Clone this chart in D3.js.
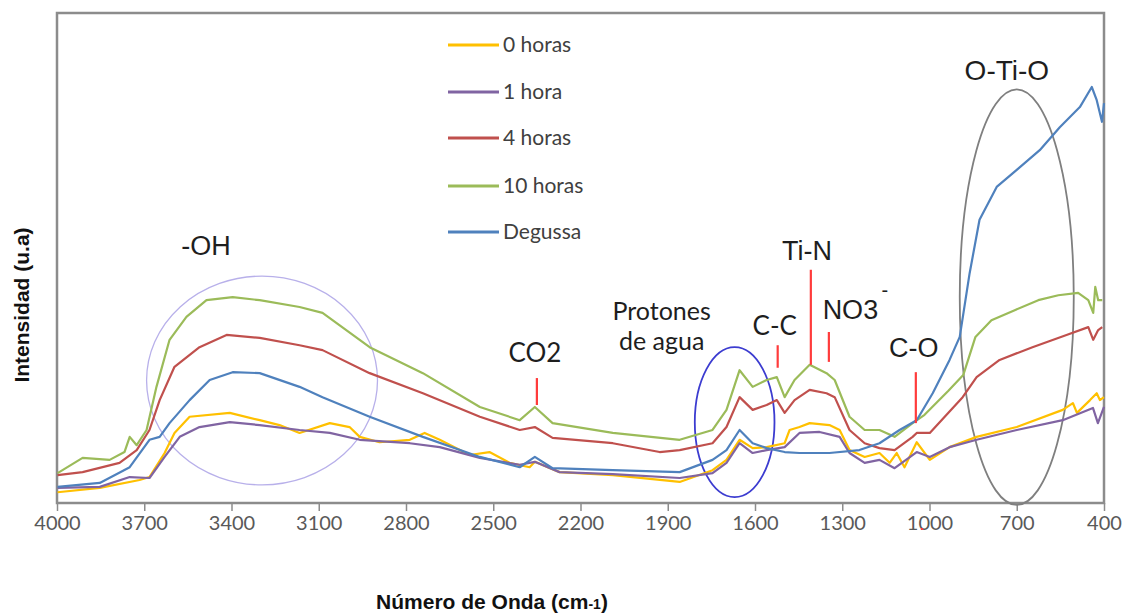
<!DOCTYPE html>
<html>
<head>
<meta charset="utf-8">
<script src="https://cdn.jsdelivr.net/npm/d3@7"></script>
<style>
  html, body { margin: 0; padding: 0; background: #ffffff; }
  svg { display: block; }
</style>
</head>
<body>
<svg id="chart" width="1129" height="613"></svg>
<script>
// ---------- DATA (wavenumber cm-1, intensity u.a.) ----------
const seriesNames = ["0 horas", "1 hora", "4 horas", "10 horas", "Degussa"];
const xTicks = [4000, 3700, 3400, 3100, 2800, 2500, 2200, 1900, 1600, 1300, 1000, 700, 400];

const horas0 = [
  [3998,2.2],[3853,3.1],[3716,4.7],[3682,5.3],[3630,10.2],[3596,14.3],[3544,17.6],[3406,18.4],
  [3303,16.9],[3235,15.9],[3166,14.3],[3062,16.3],[2994,15.5],[2959,13.5],[2891,12.4],[2787,12.9],
  [2736,14.3],[2684,12.9],[2581,9.8],[2513,10.4],[2444,8.2],[2375,7.3],[2357,8.4],[2272,6.3],
  [2089,5.7],[1859,4.3],[1746,6.7],[1698,8.8],[1653,12.9],[1608,11.2],[1560,11.4],[1498,12.2],
  [1481,14.9],[1447,15.5],[1412,16.3],[1344,15.9],[1309,14.9],[1275,10.8],[1223,9.4],[1172,10.2],
  [1137,8.2],[1113,10.2],[1086,7.3],[1044,12.4],[999,8.8],[931,11.4],[838,13.5],[700,15.5],
  [542,19.0],[507,20.4],[493,18.4],[448,21.0],[425,22.4],[414,21.0],[400,21.6]
];
const hora1 = [
  [3998,3.1],[3853,3.3],[3750,5.3],[3682,5.1],[3630,9.4],[3578,13.5],[3510,15.5],[3406,16.5],
  [3303,15.9],[3166,14.9],[3062,14.3],[2959,12.9],[2787,12.2],[2684,11.4],[2546,9.2],[2409,7.8],
  [2357,8.4],[2272,6.3],[2089,5.9],[1859,5.1],[1746,6.1],[1698,8.2],[1653,12.2],[1608,10.2],
  [1560,10.8],[1498,11.4],[1447,14.3],[1378,14.5],[1309,13.5],[1275,10.2],[1223,8.2],[1172,8.8],
  [1120,7.1],[1044,10.4],[999,9.4],[931,11.4],[838,12.9],[700,14.9],[542,16.9],[438,19.4],
  [421,16.3],[400,19.6]
];
const horas4 = [
  [3998,5.7],[3912,6.3],[3785,8.2],[3726,10.8],[3682,14.9],[3647,21.0],[3596,27.8],[3510,31.8],
  [3417,34.3],[3303,33.7],[3166,32.2],[3087,31.2],[2925,26.5],[2742,22.4],[2546,17.6],[2409,14.9],
  [2357,15.5],[2296,13.3],[2089,12.2],[1928,10.4],[1859,10.8],[1746,12.2],[1698,15.5],[1653,21.6],
  [1608,19.0],[1560,20.0],[1525,21.0],[1498,18.4],[1464,21.0],[1412,23.1],[1354,22.4],[1326,21.6],
  [1275,14.9],[1223,12.2],[1172,11.2],[1120,10.8],[1058,13.5],[1044,14.3],[999,14.3],[886,21.6],
  [838,25.7],[759,29.2],[646,31.8],[529,34.3],[454,35.9],[437,33.3],[420,35.3],[406,35.9]
];
const horas10 = [
  [3998,6.1],[3912,9.2],[3819,8.8],[3768,10.4],[3750,13.5],[3726,11.8],[3692,14.9],[3658,23.7],
  [3613,33.3],[3555,38.0],[3486,41.4],[3396,42.0],[3303,41.4],[3166,40.0],[3087,38.8],[2925,31.8],
  [2742,26.5],[2546,19.6],[2409,16.9],[2357,19.6],[2296,16.3],[2089,14.3],[1859,12.9],[1746,14.9],
  [1698,19.0],[1653,27.1],[1608,23.7],[1560,25.1],[1525,25.7],[1498,21.6],[1464,25.1],[1412,28.2],
  [1354,26.5],[1326,25.1],[1275,17.6],[1223,14.9],[1172,14.9],[1120,13.5],[1058,16.3],[1017,18.0],
  [935,22.9],[884,26.1],[842,33.9],[787,37.3],[705,39.4],[626,41.4],[557,42.4],[489,42.9],
  [454,41.4],[437,38.8],[430,44.1],[420,41.4],[406,41.4]
];
const degussa = [
  [3998,3.3],[3853,4.1],[3750,7.3],[3682,12.9],[3647,13.5],[3613,16.3],[3544,21.0],[3475,25.1],
  [3396,26.7],[3303,26.5],[3166,23.7],[3087,21.6],[2925,17.6],[2742,13.5],[2546,9.4],[2409,7.3],
  [2357,9.4],[2296,7.1],[2089,6.7],[1859,6.3],[1746,8.8],[1698,10.8],[1653,14.9],[1608,12.2],
  [1560,11.2],[1498,10.4],[1447,10.2],[1344,10.2],[1241,10.8],[1172,12.2],[1103,14.9],[1044,16.9],
  [989,22.4],[931,29.2],[896,33.9],[862,46.9],[828,57.8],[769,64.5],[700,68.0],[621,72.0],
  [552,76.7],[483,80.8],[442,84.9],[425,82.2],[407,77.8],[400,81.6]
];
const seriesValues = [horas0, hora1, horas4, horas10, degussa];
const seriesColors = ["#ffc000", "#8064a2", "#c0504d", "#9bbb59", "#4f81bd"];

// band annotations: label, marker wavenumber, label position, marker from/to value
const bandLabels = ["CO2", "C-C", "Ti-N", "NO3", "C-O"];
const bandWavenumbers = [2350, 1522, 1408, 1346, 1047];
const bandLabelWavenumbers = [2357, 1532, 1421, 1272, 1054];
const bandLabelValues = [28.8, 34.3, 49.6, 37.6, 29.8];
const bandMarkerTop = [25.5, 32.2, 47.6, 34.9, 26.7];
const bandMarkerBottom = [20.0, 27.6, 28.2, 28.8, 16.3];

// group labels and ellipses (centre wavenumber, centre value, half-width wn, half-height value)
const groupLabels = ["-OH", "O-Ti-O"];
const groupLabelWavenumbers = [3488, 734];
const groupLabelValues = [50.6, 86.3];
const ellipseCentreWn = [3295, 1670, 700];
const ellipseCentreVal = [25.0, 16.5, 42.0];
const ellipseHalfWn = [397, 137, 196];
const ellipseHalfVal = [21.3, 15.3, 42.4];
const ellipseColors = ["#b8b0ea", "#3c3cd0", "#7f7f7f"];

// ---------- CHART ----------
const W = 1129, H = 613;
const margin = { left: 57, right: 25, top: 13, bottom: 110 };
const svg = d3.select("#chart");

const x = d3.scaleLinear().domain([4000, 400]).range([margin.left, W - margin.right]);
const y = d3.scaleLinear().domain([0, 100]).range([H - margin.bottom, margin.top]);

// plot frame
svg.append("rect")
  .attr("x", x(4000)).attr("y", y(100))
  .attr("width", x(400) - x(4000)).attr("height", y(0) - y(100))
  .attr("fill", "none").attr("stroke", "#8c8c8c").attr("stroke-width", 2.5);

// x axis
const xAxis = svg.append("g")
  .attr("transform", `translate(0,${y(0)})`)
  .call(d3.axisBottom(x).tickValues(xTicks).tickSize(8).tickPadding(5).tickFormat(d3.format("d")));
xAxis.select(".domain").remove();
xAxis.selectAll(".tick line").attr("stroke", "#8c8c8c").attr("stroke-width", 1.5);
xAxis.selectAll(".tick text")
  .attr("fill", "#595959")
  .style("font-family", "Lato, 'Open Sans', sans-serif")
  .style("font-size", "20px");

// axis titles
const xt = svg.append("text")
  .attr("x", 492).attr("y", 609)
  .attr("text-anchor", "middle")
  .style("font-family", "'Liberation Sans', Arial, sans-serif")
  .style("font-weight", "bold").style("font-size", "21px").attr("fill", "#111");
xt.append("tspan").text("Número de Onda (cm");
xt.append("tspan").style("font-size", "14px").text("-1");
xt.append("tspan").text(")");

svg.append("text")
  .attr("transform", `translate(29,${305}) rotate(-90)`)
  .attr("text-anchor", "middle")
  .style("font-family", "'Liberation Sans', Arial, sans-serif")
  .style("font-weight", "bold").style("font-size", "21px").attr("fill", "#111")
  .text("Intensidad (u.a)");

// ellipses
ellipseCentreWn.forEach((c, i) => {
  svg.append("ellipse")
    .attr("cx", x(c)).attr("cy", y(ellipseCentreVal[i]))
    .attr("rx", Math.abs(x(c + ellipseHalfWn[i]) - x(c)))
    .attr("ry", Math.abs(y(ellipseHalfVal[i]) - y(0)))
    .attr("fill", "none").attr("stroke", ellipseColors[i])
    .attr("stroke-width", i === 0 ? 1.3 : 1.8);
});

// lines
const line = d3.line().x(d => x(d[0])).y(d => y(d[1])).curve(d3.curveLinear);
seriesValues.forEach((vals, i) => {
  svg.append("path").datum(vals)
    .attr("d", line)
    .attr("fill", "none")
    .attr("stroke", seriesColors[i])
    .attr("stroke-width", 2.2)
    .attr("stroke-linejoin", "round");
});

// band markers
bandWavenumbers.forEach((wn, i) => {
  svg.append("line")
    .attr("x1", x(wn)).attr("x2", x(wn))
    .attr("y1", y(bandMarkerTop[i])).attr("y2", y(bandMarkerBottom[i]))
    .attr("stroke", "#ff3b3b").attr("stroke-width", 2.2);
});
const calibriLike = "Lato, 'Open Sans', sans-serif";
const arialLike = "'Liberation Sans', Arial, sans-serif";
bandLabels.forEach((t, i) => {
  const useArial = (t === "Ti-N" || t === "NO3" || t === "C-O");
  svg.append("text")
    .attr("x", x(bandLabelWavenumbers[i])).attr("y", y(bandLabelValues[i]))
    .attr("text-anchor", "middle")
    .style("font-family", useArial ? arialLike : calibriLike)
    .style("font-size", useArial ? "27px" : "26px")
    .attr("fill", "#1e1e1e")
    .text(t);
});
// superscript of NO3-
svg.append("text")
  .attr("x", x(1272) + 31).attr("y", y(42.0))
  .style("font-family", arialLike).style("font-size", "20px").attr("fill", "#1e1e1e")
  .text("-");

// "Protones de agua"
const prot = svg.append("text")
  .attr("text-anchor", "middle")
  .style("font-family", calibriLike).style("font-size", "25px").attr("fill", "#1e1e1e");
prot.append("tspan").attr("x", x(1921)).attr("y", y(37.3)).text("Protones");
prot.append("tspan").attr("x", x(1921)).attr("y", y(31.2)).text("de agua");

// group labels
groupLabels.forEach((t, i) => {
  svg.append("text")
    .attr("x", x(groupLabelWavenumbers[i])).attr("y", y(groupLabelValues[i]))
    .attr("text-anchor", "middle")
    .style("font-family", arialLike).style("font-size", i === 0 ? "27px" : "28px").attr("fill", "#1e1e1e")
    .text(t);
});

// small red mark below axis near 1000
svg.append("line")
  .attr("x1", x(1030)).attr("x2", x(1022))
  .attr("y1", y(0) + 26).attr("y2", y(0) + 26)
  .attr("stroke", "#ff3b3b").attr("stroke-width", 2);

// legend
const legend = svg.append("g");
const legendY = [45, 92, 138, 186, 232];
seriesNames.forEach((n, i) => {
  legend.append("line")
    .attr("x1", 448).attr("x2", 499)
    .attr("y1", legendY[i]).attr("y2", legendY[i])
    .attr("stroke", seriesColors[i]).attr("stroke-width", 3);
  legend.append("text")
    .attr("x", 503).attr("y", legendY[i] + 7)
    .style("font-family", calibriLike).style("font-size", "21px")
    .attr("fill", "#404040")
    .text(n);
});
</script>
</body>
</html>
